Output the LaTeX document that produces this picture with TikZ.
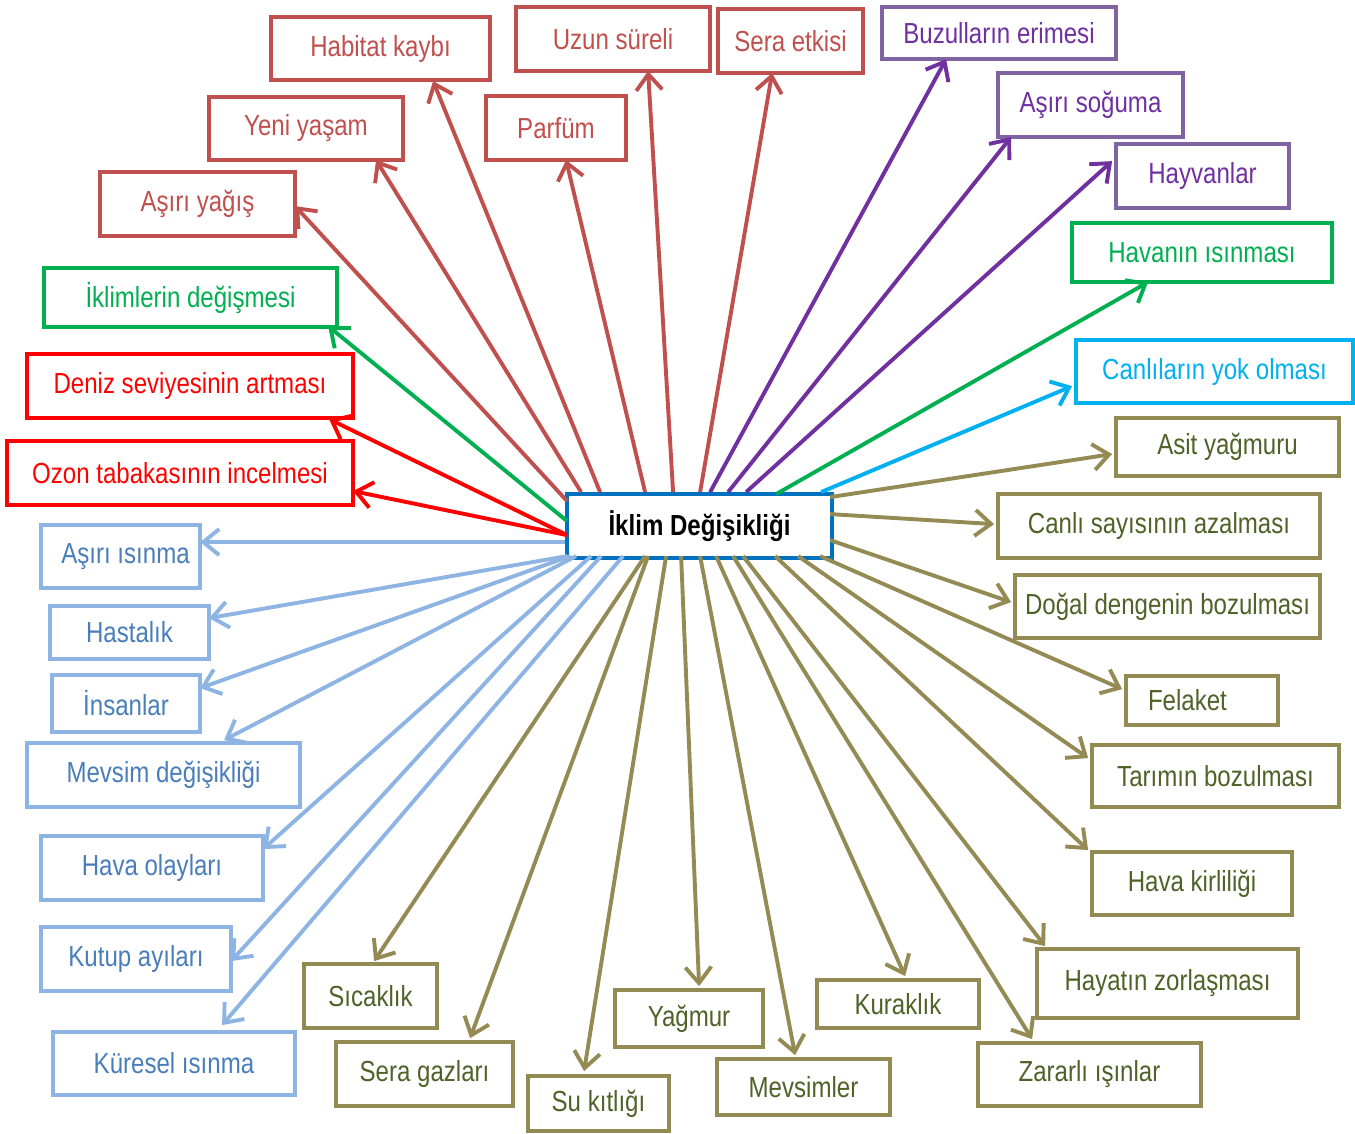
\documentclass[tikz,border=0pt]{standalone}
\usepackage{fontspec}
\setmainfont{Liberation Sans}[FakeStretch=0.83]
\usetikzlibrary{arrows.meta,calc}
\definecolor{cBr}{HTML}{C0504D}
\definecolor{cGr}{HTML}{00B050}
\definecolor{cRd}{HTML}{FF0000}
\definecolor{cPuA}{HTML}{7030A0}
\definecolor{cPuB}{HTML}{8064A2}
\definecolor{cCy}{HTML}{00B0F0}
\definecolor{cOl}{HTML}{948A54}
\definecolor{cOlT}{HTML}{4F6228}
\definecolor{cLb}{HTML}{8DB4E2}
\definecolor{cLbT}{HTML}{4A7EBB}
\definecolor{cCe}{HTML}{0070C0}
\begin{document}
\begin{tikzpicture}[x=1pt,y=-1pt,
  bx/.style={draw, line width=3.8pt, fill=white, inner sep=0pt, font=\fontsize{29}{33}\selectfont},
  brbox/.style={bx, draw=cBr, text=cBr},
  grbox/.style={bx, draw=cGr, text=cGr},
  rdbox/.style={bx, draw=cRd, text=cRd},
  pubox/.style={bx, draw=cPuB, text=cPuA},
  cybox/.style={bx, draw=cCy, text=cCy},
  olbox/.style={bx, draw=cOl, text=cOlT},
  lbbox/.style={bx, draw=cLb, text=cLbT},
  ar/.style={line width=3.9pt, -{Straight Barb[length=16pt,width=26pt]}},
  abr/.style={ar, draw=cBr},
  agr/.style={ar, draw=cGr},
  ard/.style={ar, draw=cRd},
  apu/.style={ar, draw=cPuA},
  acy/.style={ar, draw=cCy},
  aol/.style={ar, draw=cOl},
  alb/.style={ar, draw=cLb}]
\path[use as bounding box] (0,0) rectangle (1355,1133);
% center
\node[bx, draw=cCe, text=black, font=\fontsize{29}{33}\selectfont\bfseries, minimum width=265pt, minimum height=64pt] (c) at (699.5,526) {İklim Değişikliği};
% brown
\node[brbox, minimum width=219pt, minimum height=63pt] (hab) at (380.5,48.5) {Habitat kaybı};
\node[brbox, minimum width=194pt, minimum height=64pt] (uzun) at (613,39) {Uzun süreli};
\node[brbox, minimum width=145pt, minimum height=64pt] (sera) at (790.5,41) {Sera etkisi};
\node[brbox, minimum width=194pt, minimum height=63pt] (yeni) at (306,128.5) {Yeni yaşam};
\node[brbox, minimum width=140pt, minimum height=64pt] (parf) at (556,128) {Parfüm};
\node[brbox, minimum width=195pt, minimum height=64pt] (yagis) at (197.5,204) {Aşırı yağış};
% green
\node[grbox, minimum width=293pt, minimum height=59pt] (iklim) at (190.5,297.5) {İklimlerin değişmesi};
\node[grbox, minimum width=260pt, minimum height=59pt] (havan) at (1202,252.5) {Havanın ısınması};
% red
\node[rdbox, minimum width=326pt, minimum height=64pt] (deniz) at (190,386) {Deniz seviyesinin artması};
\node[rdbox, minimum width=346pt, minimum height=64pt] (ozon) at (180,473) {Ozon tabakasının incelmesi};
% purple
\node[pubox, minimum width=234pt, minimum height=52pt] (buz) at (999,33) {Buzulların erimesi};
\node[pubox, minimum width=185pt, minimum height=64pt] (sog) at (1090.5,105) {Aşırı soğuma};
\node[pubox, minimum width=173pt, minimum height=64pt] (hayv) at (1202.5,176) {Hayvanlar};
% cyan
\node[cybox, minimum width=277pt, minimum height=63pt] (canli) at (1214.5,371.5) {Canlıların yok olması};
% olive
\node[olbox, minimum width=223pt, minimum height=58pt] (asit) at (1227.5,447) {Asit yağmuru};
\node[olbox, minimum width=322pt, minimum height=64pt] (csay) at (1159,526) {Canlı sayısının azalması};
\node[olbox, minimum width=305pt, minimum height=63pt] (dogal) at (1167.5,606.5) {Doğal dengenin bozulması};
\node[olbox, minimum width=152pt, minimum height=49pt, text width=140pt, align=left, inner xsep=6pt] (felaket) at (1202,700.5) {\hspace*{16pt}Felaket};
\node[olbox, minimum width=247pt, minimum height=62pt] (tarim) at (1215.5,776) {Tarımın bozulması};
\node[olbox, minimum width=200pt, minimum height=63pt] (havak) at (1192,883.5) {Hava kirliliği};
\node[olbox, minimum width=261pt, minimum height=69pt] (hayat) at (1167.5,983.5) {Hayatın zorlaşması};
\node[olbox, minimum width=223pt, minimum height=63pt] (zarar) at (1089.5,1074.5) {Zararlı ışınlar};
\node[olbox, minimum width=162pt, minimum height=48pt] (kurak) at (898,1004) {Kuraklık};
\node[olbox, minimum width=173pt, minimum height=56pt] (mevs) at (803.5,1087) {Mevsimler};
\node[olbox, minimum width=148pt, minimum height=57pt] (yagmur) at (689,1018.5) {Yağmur};
\node[olbox, minimum width=141pt, minimum height=55pt] (su) at (598.5,1103.5) {Su kıtlığı};
\node[olbox, minimum width=177pt, minimum height=64pt] (seragaz) at (424.5,1074) {Sera gazları};
\node[olbox, minimum width=133pt, minimum height=64pt] (sicak) at (370.5,996) {Sıcaklık};
% light blue
\node[lbbox, minimum width=159pt, minimum height=63pt] (asirisin) at (120.5,556.5) {\hspace*{10pt}Aşırı ısınma};
\node[lbbox, minimum width=159pt, minimum height=53pt] (hast) at (129.5,632.5) {Hastalık};
\node[lbbox, minimum width=148pt, minimum height=57pt] (insan) at (126,703.5) {İnsanlar};
\node[lbbox, minimum width=273pt, minimum height=64pt] (mevsd) at (163.5,775) {Mevsim değişikliği};
\node[lbbox, minimum width=222pt, minimum height=64pt] (havao) at (152,868) {Hava olayları};
\node[lbbox, minimum width=190pt, minimum height=64pt] (kutup) at (136,959) {Kutup ayıları};
\node[lbbox, minimum width=242pt, minimum height=63pt] (kures) at (174,1063.5) {Küresel ısınma};
% arrows brown
\draw[abr] ($(c.north west)+(35,0)$) -- ($(hab.north west)+(164,66)$);
\draw[abr] ($(c.north west)+(108,0)$) -- ($(uzun.north west)+(134,66)$);
\draw[abr] ($(c.north west)+(135,0)$) -- ($(sera.north west)+(56,66)$);
\draw[abr] ($(c.north west)+(16,0)$) -- ($(yeni.north west)+(169,65)$);
\draw[abr] ($(c.north west)+(80,0)$) -- ($(parf.north west)+(82,66)$);
\draw[abr] ($(c.north west)+(2,9)$) -- ($(yagis.north west)+(197,36)$);
% green
\draw[agr] ($(c.north west)+(2,29)$) -- ($(iklim.north west)+(286,60)$);
\draw[agr] ($(c.north west)+(211,2)$) -- ($(havan.north west)+(78,61)$);
% red
\draw[ard] ($(c.north west)+(2,43)$) -- ($(deniz.north west)+(304,67)$);
\draw[ard] ($(c.north west)+(2,43)$) -- ($(ozon.north west)+(348,52)$);
% purple
\draw[apu] ($(c.north west)+(145,0)$) -- ($(buz.north west)+(66,54)$);
\draw[apu] ($(c.north west)+(163,0)$) -- ($(sog.north west)+(15,66)$);
\draw[apu] ($(c.north west)+(181,0)$) -- ($(hayv.north west)+(-2,19)$);
% cyan
\draw[acy] ($(c.north west)+(256,0)$) -- ($(canli.north west)+(-2,48)$);
% olive
\draw[aol] ($(c.north west)+(265,5)$) -- ($(asit.north west)+(-2,38)$);
\draw[aol] ($(c.north west)+(265,22)$) -- ($(csay.north west)+(-2,32)$);
\draw[aol] ($(c.north west)+(265,48)$) -- ($(dogal.north west)+(-2,29)$);
\draw[aol] ($(c.north west)+(255,64)$) -- ($(felaket.north west)+(-2,15)$);
\draw[aol] ($(c.north west)+(233,64)$) -- ($(tarim.north west)+(-2,15)$);
\draw[aol] ($(c.north west)+(210,64)$) -- ($(havak.north west)+(-2,0)$);
\draw[aol] ($(c.north west)+(178,64)$) -- ($(hayat.north west)+(10,-1)$);
\draw[aol] ($(c.north west)+(168,64)$) -- ($(zarar.north west)+(56,-2)$);
\draw[aol] ($(c.north west)+(151,64)$) -- ($(kurak.north west)+(90,-2)$);
\draw[aol] ($(c.north west)+(135,64)$) -- ($(mevs.north west)+(80,-2)$);
\draw[aol] ($(c.north west)+(116,64)$) -- ($(yagmur.north west)+(86,-2)$);
\draw[aol] ($(c.north west)+(101,64)$) -- ($(su.north west)+(58,-3)$);
\draw[aol] ($(c.north west)+(83,64)$) -- ($(seragaz.north west)+(136,-2)$);
\draw[aol] ($(c.north west)+(80,64)$) -- ($(sicak.north west)+(72,-1)$);
% light blue
\draw[alb] ($(c.north west)+(0,50)$) -- ($(asirisin.north west)+(161,19)$);
\draw[alb] ($(c.north west)+(2,64)$) -- ($(hast.north west)+(161,14)$);
\draw[alb] ($(c.north west)+(5,64)$) -- ($(insan.north west)+(150,15)$);
\draw[alb] ($(c.north west)+(11,64)$) -- ($(mevsd.north west)+(199,-1)$);
\draw[alb] ($(c.north west)+(26,64)$) -- ($(havao.north west)+(224,15)$);
\draw[alb] ($(c.north west)+(36,64)$) -- ($(kutup.north west)+(192,36)$);
\draw[alb] ($(c.north west)+(58,64)$) -- ($(kures.north west)+(171,-5)$);
\end{tikzpicture}
\end{document}
